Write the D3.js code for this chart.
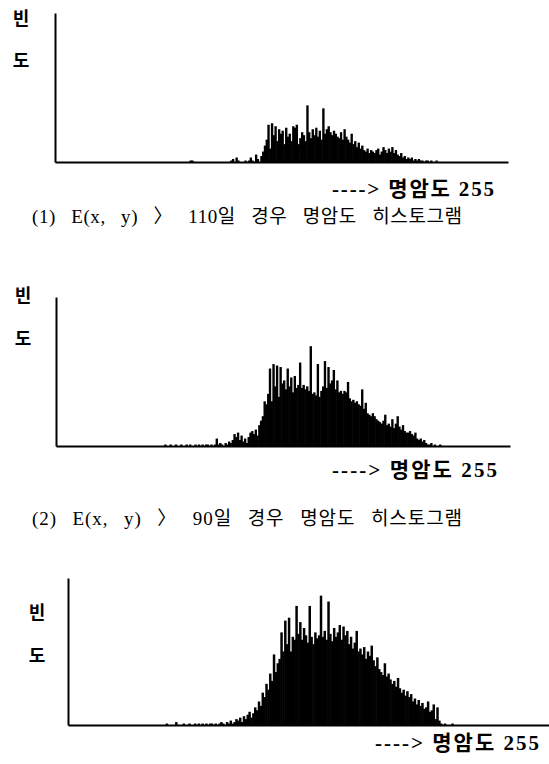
<!DOCTYPE html>
<html>
<head>
<meta charset="utf-8">
<script src="https://cdn.jsdelivr.net/npm/d3@7"></script>
<style>
  body { margin: 0; background: #fff; }
  svg { display: block; }
  .domain { stroke: #000; stroke-width: 2; }
</style>
</head>
<body>
<svg width="549" height="764"></svg>
<script>
// brightness histograms, 256 bins (0..255); values are relative frequency (axis top = 100)
var nBins = 256;

// (1) E(x, y) > 110 ; values for bins 60..219
var start1 = 60;
var counts1 = [
  0,0,0,0,0,0,0,0,0,0,
  0,0,0,0,0,0,1,1,0,0,
  0,0,0,0,0,0,0,0,0,0,
  0,0,0,0,0,0,0,0,0,1,
  2,0,3,1,0,0,0,1,0,1,
  3,1,0,5,2,0,4,7,11,15,
  25,9,26,18,24,14,22,19,21,12,
  23,17,19,14,24,23,25,12,16,20,
  18,14,38,20,16,22,18,23,17,21,
  15,36,19,22,24,20,18,21,19,17,
  16,20,15,22,17,15,13,19,12,14,
  10,13,9,11,8,7,9,6,8,7,
  6,8,9,5,7,10,8,6,9,7,
  10,6,8,5,4,6,3,4,2,3,
  2,3,1,2,1,2,1,1,0,1,
  1,0,1,0,0,1,0,0,0,0
];

// (2) E(x, y) > 90 ; values for bins 60..219
var start2 = 60;
var counts2 = [
  0,1,0,0,1,0,0,1,0,0,
  1,0,0,1,0,1,0,0,1,0,
  1,0,1,0,1,1,0,1,0,1,
  5,1,2,1,0,2,1,3,2,4,
  8,6,9,4,7,3,5,2,6,9,
  10,8,11,7,14,17,20,30,28,35,
  52,30,55,40,54,33,53,42,44,38,
  52,40,46,36,47,39,41,56,39,41,
  38,40,37,67,35,36,34,55,33,37,
  40,57,39,53,42,44,51,38,44,36,
  37,35,37,36,43,32,30,31,29,30,
  28,27,38,25,29,22,21,20,22,20,
  18,17,16,15,17,21,14,15,13,18,
  12,15,20,13,11,14,10,9,9,10,
  8,7,9,5,4,5,3,4,2,1,
  1,2,0,1,0,0,1,0,0,0
];

// (3) third histogram ; values for bins 50..209
var start3 = 50;
var counts3 = [
  0,0,1,0,0,0,0,2,0,0,
  0,1,0,0,1,0,0,1,0,1,
  0,1,0,1,0,1,1,0,1,0,
  1,2,1,0,2,1,3,1,2,4,
  3,5,2,6,4,7,9,5,8,12,
  10,16,13,22,19,28,24,35,30,48,
  36,42,45,63,50,71,55,73,50,60,
  58,81,62,70,58,66,61,56,81,60,
  55,63,59,61,88,60,64,58,84,62,
  57,66,60,63,68,58,67,61,64,55,
  60,52,56,64,50,52,48,53,45,50,
  47,54,44,40,46,38,36,34,42,33,
  35,31,28,30,26,32,25,22,24,20,
  23,19,21,16,18,14,17,13,15,11,
  12,16,9,10,14,4,12,3,1,0,
  1,0,0,0,1,0,0,0,0,0
];

var yLabels = ["빈", "도"];
var axisNote = "----> 명암도 255";
var captions = [
  "(1) E(x, y) 〉 110일 경우 명암도 히스토그램",
  "(2) E(x, y) 〉 90일 경우 명암도 히스토그램"
];

var svg = d3.select("svg");
svg.append("rect").attr("width", 549).attr("height", 764).attr("fill", "#fff");

var fontKr = "'Liberation Serif', 'Noto Sans CJK KR', serif";

function fullHist(start, arr) {
  var out = d3.range(nBins).map(function() { return 0; });
  arr.forEach(function(v, i) { out[start + i] = v; });
  return out;
}

var panels = [
  {data: fullHist(start1, counts1), left: 55, right: 508, top: 13, base: 162,
   labX: 21, labY: [25, 67], noteX: 332, noteY: 196, noteW: 163, caption: captions[0], capY: 223},
  {data: fullHist(start2, counts2), left: 56, right: 510, top: 297, base: 446,
   labX: 23, labY: [302, 345], noteX: 332, noteY: 477, noteW: 166, caption: captions[1], capY: 525},
  {data: fullHist(start3, counts3), left: 68, right: 549, top: 578, base: 725,
   labX: 37, labY: [619, 662], noteX: 375, noteY: 750, noteW: 165, caption: null}
];

function drawHist(p) {
  var x = d3.scaleLinear().domain([0, nBins]).range([p.left, p.right]);
  var y = d3.scaleLinear().domain([0, 100]).range([p.base, p.top]);
  var g = svg.append("g");
  var step = x(1) - x(0);

  g.selectAll("rect.bar")
    .data(p.data)
    .enter().append("rect")
      .attr("class", "bar")
      .attr("x", function(d, i) { return x(i); })
      .attr("width", step + 0.6)
      .attr("y", function(d) { return y(d); })
      .attr("height", function(d) { return y(0) - y(d); })
      .attr("fill", "#000");

  g.append("g")
    .attr("transform", "translate(0," + p.base + ")")
    .call(d3.axisBottom(x).tickValues([]).tickSizeOuter(0));

  g.append("g")
    .attr("transform", "translate(" + p.left + ",0)")
    .call(d3.axisLeft(y).tickValues([]).tickSizeOuter(0));

  yLabels.forEach(function(t, i) {
    g.append("text")
      .attr("x", p.labX)
      .attr("y", p.labY[i])
      .attr("text-anchor", "middle")
      .style("font-family", fontKr)
      .style("font-weight", "bold")
      .style("font-size", "18px")
      .text(t);
  });

  g.append("text")
    .attr("x", p.noteX)
    .attr("y", p.noteY)
    .attr("textLength", p.noteW)
    .attr("lengthAdjust", "spacing")
    .style("font-family", fontKr)
    .style("font-weight", "bold")
    .style("font-size", "21px")
    .style("letter-spacing", "1px")
    .text(axisNote);

  if (p.caption) {
    g.append("text")
      .attr("x", 32)
      .attr("y", p.capY)
      .attr("textLength", 430)
      .attr("lengthAdjust", "spacing")
      .style("font-family", fontKr)
      .style("font-size", "19px")
      .style("word-spacing", "10px")
      .text(p.caption);
  }
}

panels.forEach(drawHist);
</script>
</body>
</html>
